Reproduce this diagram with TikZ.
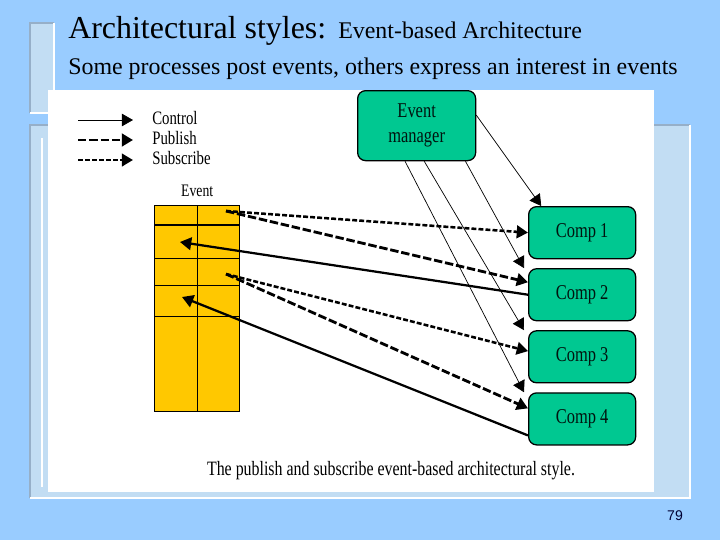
\documentclass[tikz,border=0pt]{standalone}
\usepackage{fontspec}
\setmainfont{Liberation Serif}
\newfontfamily\narrowfont[FakeStretch=0.78]{Liberation Serif}
\newfontfamily\pagefont{Liberation Sans}
\usetikzlibrary{positioning, arrows.meta}

\definecolor{slidebg}{RGB}{153,204,255}
\definecolor{panel}{RGB}{194,221,243}
\definecolor{panelrule}{RGB}{150,175,200}
\definecolor{evgreen}{RGB}{0,200,145}
\definecolor{evyellow}{RGB}{255,200,0}

\begin{document}
\begin{tikzpicture}[x=0.025cm, y=-0.025cm, node distance=0.22cm,
	comp/.style={draw, line width=0.9pt, fill=evgreen, rounded corners=0.2cm, minimum width=2.675cm, minimum height=1.3cm, inner sep=0pt, font=\narrowfont\fontsize{15}{18}\selectfont, text=black!90!evgreen},
	lbl/.style={font=\narrowfont\fontsize{13.5}{14}\selectfont, inner sep=0pt, anchor=west},
	ctrl/.style={-{Triangle[length=8pt,width=9pt]}, line width=0.5pt},
	pub/.style={-{Triangle[length=8pt,width=9pt]}, line width=2pt, dash pattern=on 6pt off 2pt},
	sub/.style={-{Triangle[length=8pt,width=9pt]}, line width=1.8pt, dash pattern=on 3.5pt off 1.5pt},
	notify/.style={-{Triangle[length=8pt,width=9pt]}, line width=1.6pt}]
	\useasboundingbox (0,0) rectangle (720,540);
	\fill[slidebg] (0,0) rectangle (720,540);

	% slide panels
	\fill[panel] (30,23) rectangle (54,113);
	\draw[panelrule, line width=1pt] (30,113) -- (30,23) -- (54,23);
	\draw[white, line width=1pt] (54,23) -- (54,113) -- (30,113);
	\fill[panel] (30,125) rectangle (690,498);
	\draw[panelrule, line width=1pt] (30,498) -- (30,125) -- (690,125);
	\draw[white, line width=1pt] (690,125) -- (690,498) -- (30,498);
	\draw[white, line width=1pt] (42,138) -- (42,487);
	\fill[white] (48,90) rectangle (654,492);

	\node[anchor=base west, inner sep=0pt, font=\fontsize{22.7}{24}\selectfont] (title) at (68,38) {Architectural styles:};
	\node[anchor=base west, inner sep=0pt, font=\fontsize{17}{18}\selectfont] (topic) at (338,38) {Event-based Architecture};
	\node[anchor=base west, inner sep=0pt, font=\fontsize{17}{18}\selectfont] (subtitle) at (68,74) {Some processes post events, others express an interest in events};

	% legend
	\foreach \y/\s/\t [count=\i] in {120/ctrl/Control, 140/pub/Publish, 160/sub/Subscribe} {
		\coordinate (leg\i-a) at (78,\y);
		\coordinate (leg\i-b) at (133,\y);
		\draw[\s] (leg\i-a) -- (leg\i-b);
		\node[lbl] (leg\i) at (152,\y-2) {\t};
	}

	% event table
	\node[draw, fill=evyellow, line width=1pt, minimum width=2.125cm, minimum height=5.15cm, inner sep=0pt, anchor=north west] (evt) at (154,205) {};
	\node[lbl, anchor=south, font=\narrowfont\fontsize{12.5}{13}\selectfont, above=0.2cm of evt] (evtlbl) {Event};
	\draw[line width=0.5pt] (evt.north) -- (evt.south);
	\draw[line width=1.4pt] (evt.west |- 0,225) -- (evt.east |- 0,225);
	\foreach \y in {258,285,316}
		\draw[line width=0.5pt] (evt.west |- 0,\y) -- (evt.east |- 0,\y);
	\coordinate (p1) at (226,211);
	\coordinate (p2) at (226,274);
	\coordinate (s1) at (180,242);
	\coordinate (s2) at (182,297);

	\node[comp, minimum width=2.95cm, minimum height=1.75cm, align=center, anchor=north west] (em) at (357,90) {Event\\manager};
	\node[comp, anchor=north west] (c1) at (528,206) {Comp 1};
	\node[comp, below=of c1] (c2) {Comp 2};
	\node[comp, below=of c2] (c3) {Comp 3};
	\node[comp, below=of c3] (c4) {Comp 4};

	\draw[ctrl] (em.10) -- ([xshift=0.33cm]c1.north west);
	\draw[ctrl] ([xshift=1.22cm]em.south) -- ([xshift=-0.1cm]c2.north west);
	\draw[ctrl] ([xshift=0.19cm]em.south) -- ([xshift=-0.1cm]c3.north west);
	\draw[ctrl] ([xshift=-0.29cm]em.south) -- ([xshift=-0.1cm]c4.north west);

	\draw[sub] (p1) -- (c1.west);
	\draw[pub] (p1) -- (c2.167);
	\draw[notify] (c2.west) -- (s1);
	\draw[sub] (p2) -- (c3.174);
	\draw[pub] (p2) -- (c4.169);
	\draw[notify] (c4.197) -- (s2);

	\node[font=\narrowfont\fontsize{14.5}{15}\selectfont] (caption) at (391,471) {The publish and subscribe event-based architectural style.};
	\node[font=\pagefont\fontsize{10}{11}\selectfont, text=black!80!blue] (pageno) at (675,516) {79};
\end{tikzpicture}
\end{document}
